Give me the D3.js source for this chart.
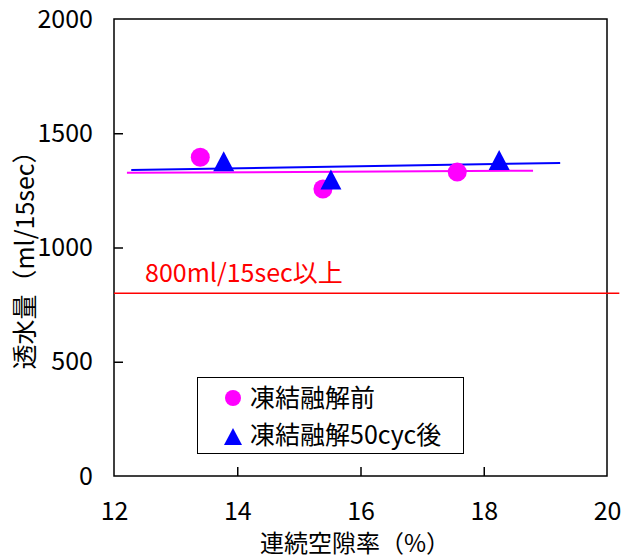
<!DOCTYPE html>
<html>
<head>
<meta charset="utf-8">
<script src="https://cdn.jsdelivr.net/npm/d3@7"></script>
<style>
	body { margin: 0; background: #fff; }
	svg text { font-family: 'Noto Sans CJK JP', sans-serif; }
</style>
</head>
<body>
<div id="chart"></div>
<script>
// Data
const xTicks = [12, 14, 16, 18, 20];
const yTicks = [0, 500, 1000, 1500, 2000];

const beforeX = [13.40, 15.39, 17.57];
const beforeY = [1395, 1256, 1330];
const afterX = [13.78, 15.52, 18.25];
const afterY = [1377, 1298, 1383];

// trend line end points (x, y)
const beforeTrendX = [12.21, 18.80];
const beforeTrendY = [1327, 1336];
const afterTrendX = [12.28, 19.24];
const afterTrendY = [1339, 1370];

const limitX = [12, 20.2];
const limitY = [800, 800];

const seriesNames = ['凍結融解前', '凍結融解50cyc後'];
const limitLabel = '800ml/15sec以上';

const width = 634,
	height = 559,
	margin = {top: 19, right: 27, bottom: 83, left: 114};

const x = d3.scaleLinear().domain([12, 20]).range([margin.left, width - margin.right]);
const y = d3.scaleLinear().domain([0, 2000]).range([height - margin.bottom, margin.top]);

const svg = d3.select('#chart').append('svg')
	.attr('width', width)
	.attr('height', height);

// axes, ticks point inwards
const xAxis = svg.append('g')
	.attr('transform', `translate(0,${y(0)})`)
	.call(d3.axisBottom(x).tickValues(xTicks).tickFormat(d3.format('d'))
		.tickSizeInner(-9).tickSizeOuter(0).tickPadding(26));
const yAxis = svg.append('g')
	.attr('transform', `translate(${x(12)},0)`)
	.call(d3.axisLeft(y).tickValues(yTicks).tickFormat(d3.format('d'))
		.tickSizeInner(-9).tickSizeOuter(0).tickPadding(21));

[xAxis, yAxis].forEach(ax => {
	ax.select('.domain').remove();
	ax.selectAll('.tick line').attr('stroke', '#000').attr('stroke-width', 1.5);
	ax.selectAll('.tick text').attr('fill', '#000').style('font-size', '25px');
});
xAxis.selectAll('.tick').filter(d => d === 12 || d === 20).select('line').remove();
yAxis.selectAll('.tick').filter(d => d === 0 || d === 2000).select('line').remove();

// frame
svg.append('rect')
	.attr('x', x(12))
	.attr('y', y(2000))
	.attr('width', x(20) - x(12))
	.attr('height', y(0) - y(2000))
	.attr('fill', 'none')
	.attr('stroke', '#000')
	.attr('stroke-width', 1.5);

const line = d3.line().x(d => x(d[0])).y(d => y(d[1]));

// 800 ml limit
svg.append('path')
	.datum(d3.zip(limitX, limitY))
	.attr('d', line)
	.attr('stroke', '#ff0000')
	.attr('stroke-width', 1.5)
	.attr('fill', 'none');

svg.append('text')
	.attr('x', 145)
	.attr('y', 282)
	.attr('fill', '#ff0000')
	.style('font-size', '25px')
	.text(limitLabel);

// trend lines
svg.append('path')
	.datum(d3.zip(beforeTrendX, beforeTrendY))
	.attr('d', line)
	.attr('stroke', '#ff00ff')
	.attr('stroke-width', 2)
	.attr('fill', 'none');
svg.append('path')
	.datum(d3.zip(afterTrendX, afterTrendY))
	.attr('d', line)
	.attr('stroke', '#0000ff')
	.attr('stroke-width', 2)
	.attr('fill', 'none');

// markers
const tri = (w, h) => `M0,${-h / 2}L${w / 2},${h / 2}L${-w / 2},${h / 2}Z`;

svg.selectAll('.before')
	.data(d3.zip(beforeX, beforeY))
	.enter().append('circle')
	.attr('class', 'before')
	.attr('cx', d => x(d[0]))
	.attr('cy', d => y(d[1]))
	.attr('r', 9.5)
	.attr('fill', '#ff00ff');

svg.selectAll('.after')
	.data(d3.zip(afterX, afterY))
	.enter().append('path')
	.attr('class', 'after')
	.attr('transform', d => `translate(${x(d[0])},${y(d[1])})`)
	.attr('d', tri(21, 20))
	.attr('fill', '#0000ff');

// legend
const legend = svg.append('g');
legend.append('rect')
	.attr('x', 197.5)
	.attr('y', 377.5)
	.attr('width', 266)
	.attr('height', 76)
	.attr('fill', '#fff')
	.attr('stroke', '#000')
	.attr('stroke-width', 1);
legend.append('circle')
	.attr('cx', 233).attr('cy', 398).attr('r', 8)
	.attr('fill', '#ff00ff');
legend.append('path')
	.attr('transform', 'translate(233,436.5)')
	.attr('d', tri(18, 17))
	.attr('fill', '#0000ff');
seriesNames.forEach((name, i) => {
	legend.append('text')
		.attr('x', 250)
		.attr('y', 407 + i * 37)
		.style('font-size', '25px')
		.text(name);
});

// axis titles
svg.append('text')
	.attr('x', 355)
	.attr('y', 552)
	.attr('text-anchor', 'middle')
	.style('font-size', '24px')
	.text('連続空隙率（%）');

svg.append('text')
	.attr('transform', 'translate(34,254) rotate(-90)')
	.attr('text-anchor', 'middle')
	.style('font-size', '25px')
	.text('透水量（ml/15sec）');
</script>
</body>
</html>
